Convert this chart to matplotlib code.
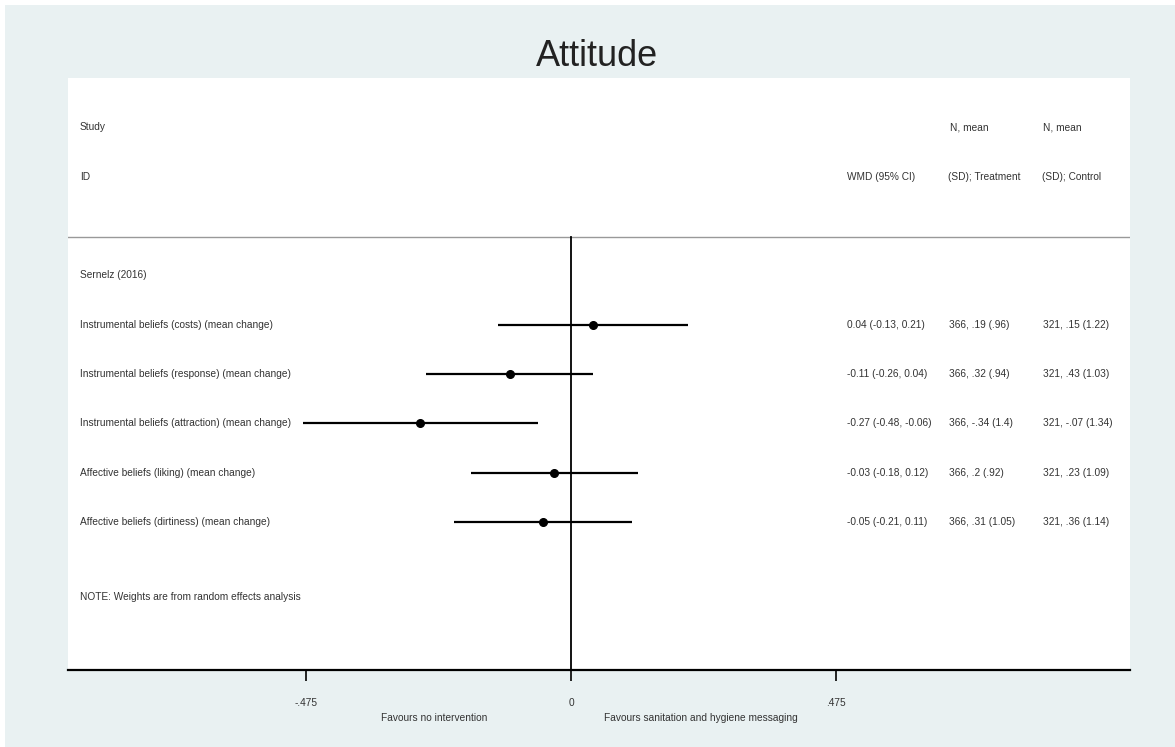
import matplotlib
matplotlib.use("Agg")
import matplotlib.pyplot as plt
from matplotlib.patches import Rectangle

plt.rcParams['font.family'] = ['Liberation Sans', 'DejaVu Sans']

# ---- data ----
group_label = "Sernelz (2016)"
outcomes = [
    "Instrumental beliefs (costs) (mean change)",
    "Instrumental beliefs (response) (mean change)",
    "Instrumental beliefs (attraction) (mean change)",
    "Affective beliefs (liking) (mean change)",
    "Affective beliefs (dirtiness) (mean change)",
]
wmd = [0.04, -0.11, -0.27, -0.03, -0.05]
ci_low = [-0.13, -0.26, -0.48, -0.18, -0.21]
ci_high = [0.21, 0.04, -0.06, 0.12, 0.11]
treatment = ["366, .19 (.96)", "366, .32 (.94)", "366, -.34 (1.4)", "366, .2 (.92)", "366, .31 (1.05)"]
control = ["321, .15 (1.22)", "321, .43 (1.03)", "321, -.07 (1.34)", "321, .23 (1.09)", "321, .36 (1.14)"]
tick_values = [-0.475, 0, 0.475]
tick_labels = ["-.475", "0", ".475"]

W, H = 1175, 747
fig = plt.figure(figsize=(W / 100, H / 100), dpi=100, facecolor='#e9f1f2')
# thin white strips at top and left edges
fig.patches.append(Rectangle((0, 1 - 5 / H), 1, 5 / H, transform=fig.transFigure,
                             facecolor='white', edgecolor='none', zorder=-10))
fig.patches.append(Rectangle((0, 0), 5 / W, 1, transform=fig.transFigure,
                             facecolor='white', edgecolor='none', zorder=-10))

left_px, right_px, top_px, bot_px = 68, 1130, 78, 670
ax = fig.add_axes([left_px / W, 1 - bot_px / H, (right_px - left_px) / W, (bot_px - top_px) / H])
ax.set_facecolor('white')
zero_px, unit_px = 571, 558.0
ax.set_xlim((left_px - zero_px) / unit_px, (right_px - zero_px) / unit_px)
ax.set_ylim(8, -4)

FS = 7.25
for s in ['top', 'right', 'left']:
    ax.spines[s].set_visible(False)
ax.spines['bottom'].set_linewidth(1.6)
ax.spines['bottom'].set_color('black')
ax.set_yticks([])
ax.set_xticks(tick_values)
ax.set_xticklabels(tick_labels, fontsize=FS, color='#333333')
ax.tick_params(axis='x', direction='out', length=8, width=1.2, pad=12)

# separator and zero line
ax.axhline(-0.77, color='#999999', lw=1.0)
ax.plot([0, 0], [-0.77, 8], color='black', lw=1.3)

txt = dict(fontsize=FS, color='#333333', va='center')
tr = ax.get_yaxis_transform()  # x in axes fraction, y in data

def fx(px):
    return (px - left_px) / (right_px - left_px)

ax.text(fx(80), -3, "Study", transform=tr, **txt)
ax.text(fx(80), -2, "ID", transform=tr, **txt)
ax.text(fx(847), -2, "WMD (95% CI)", transform=tr, **txt)
ax.text(fx(950), -3, "N, mean", transform=tr, **txt)
ax.text(fx(948), -2, "(SD); Treatment", transform=tr, **txt)
ax.text(fx(1043), -3, "N, mean", transform=tr, **txt)
ax.text(fx(1042), -2, "(SD); Control", transform=tr, **txt)
ax.text(fx(80), 0, group_label, transform=tr, **txt)

for i, name in enumerate(outcomes):
    y = i + 1
    ax.plot([ci_low[i], ci_high[i]], [y, y], color='black', lw=1.6, solid_capstyle='butt')
    ax.plot(wmd[i], y, 'o', color='black', markersize=5.5)
    ax.text(fx(80), y, name, transform=tr, **txt)
    ax.text(fx(847), y, f"{wmd[i]:.2f} ({ci_low[i]:.2f}, {ci_high[i]:.2f})", transform=tr, **txt)
    ax.text(fx(949), y, treatment[i], transform=tr, **txt)
    ax.text(fx(1043), y, control[i], transform=tr, **txt)

ax.text(fx(80), 6.52, "NOTE: Weights are from random effects analysis", transform=tr, **txt)

fig.text(434 / W, 1 - 718 / H, "Favours no intervention", ha='center', va='center', fontsize=FS, color='#333333')
fig.text(701 / W, 1 - 718 / H, "Favours sanitation and hygiene messaging", ha='center', va='center', fontsize=FS, color='#333333')
fig.text(597 / W, 1 - 66 / H, "Attitude", ha='center', va='baseline', fontsize=26, color='#222222')

fig.savefig("out.png", dpi=100, facecolor=fig.get_facecolor())
